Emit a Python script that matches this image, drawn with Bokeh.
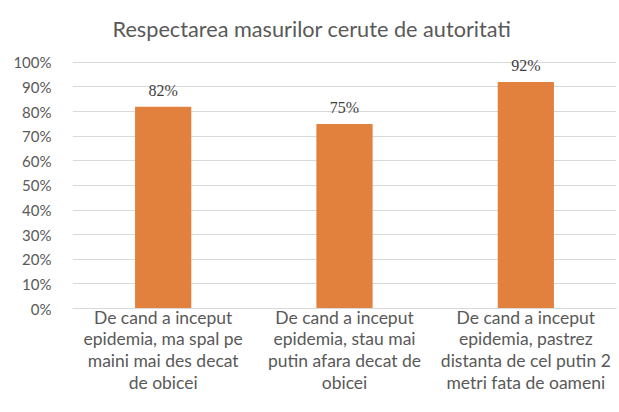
from bokeh.plotting import figure
from bokeh.models import FactorRange, Range1d, NumeralTickFormatter, ColumnDataSource, LabelSet, FixedTicker
from bokeh.embed import file_html
from bokeh.resources import INLINE

categories = [
    "De cand a inceput\nepidemia, ma spal pe\nmaini mai des decat\nde obicei",
    "De cand a inceput\nepidemia, stau mai\nputin afara decat de\nobicei",
    "De cand a inceput\nepidemia, pastrez\ndistanta de cel putin 2\nmetri fata de oameni",
]
values = [0.82, 0.75, 0.92]
value_labels = ["82%", "75%", "92%"]
y_ticks = [0, 0.1, 0.2, 0.3, 0.4, 0.5, 0.6, 0.7, 0.8, 0.9, 1.0]

FONT = "Lato"
GREY = "#595959"

src = ColumnDataSource(data=dict(cat=categories, val=values, lab=value_labels))

p = figure(
    x_range=FactorRange(factors=categories, range_padding=0),
    y_range=Range1d(0, 1.04),
    width=617, height=410,
    output_backend="svg", toolbar_location=None,
    title="Respectarea masurilor cerute de autoritati",
    min_border_left=72, min_border_right=1, min_border_top=52, min_border_bottom=102,
)
p.outline_line_color = None
p.background_fill_color = "white"
p.border_fill_color = "white"

p.title.text_font = FONT
p.title.text_font_size = "21.7px"
p.title.text_font_style = "normal"
p.title.text_color = GREY
p.title.align = "left"
p.title.offset = 40
p.title.standoff = 22

p.vbar(x="cat", top="val", width=0.31, source=src, fill_color="#E2803D", line_color=None)

labels = LabelSet(x="cat", y="val", text="lab", source=src, text_align="center",
                  text_baseline="bottom", y_offset=8, text_font=FONT,
                  text_font_size="16px", text_color="#404040")
p.add_layout(labels)

p.xgrid.grid_line_color = None
p.ygrid.grid_line_color = "#D9D9D9"
p.ygrid.grid_line_width = 1

p.yaxis.ticker = FixedTicker(ticks=y_ticks)
p.yaxis.formatter = NumeralTickFormatter(format="0%")
p.yaxis.axis_line_color = None
p.yaxis.major_tick_line_color = None
p.yaxis.minor_tick_line_color = None
p.yaxis.major_tick_out = 0
p.yaxis.major_label_standoff = 21
p.yaxis.major_label_text_font = FONT
p.yaxis.major_label_text_font_size = "15px"
p.yaxis.major_label_text_color = GREY

p.xaxis.axis_line_color = "#D9D9D9"
p.xaxis.major_tick_line_color = None
p.xaxis.minor_tick_line_color = None
p.xaxis.major_tick_out = 0
p.xaxis.major_label_standoff = -2
p.xaxis.major_label_text_font = FONT
p.xaxis.major_label_text_font_size = "17.5px"
p.xaxis.major_label_text_color = GREY
p.xaxis.major_label_text_line_height = 1.04

open("out.html", "w").write(file_html(p, INLINE))
